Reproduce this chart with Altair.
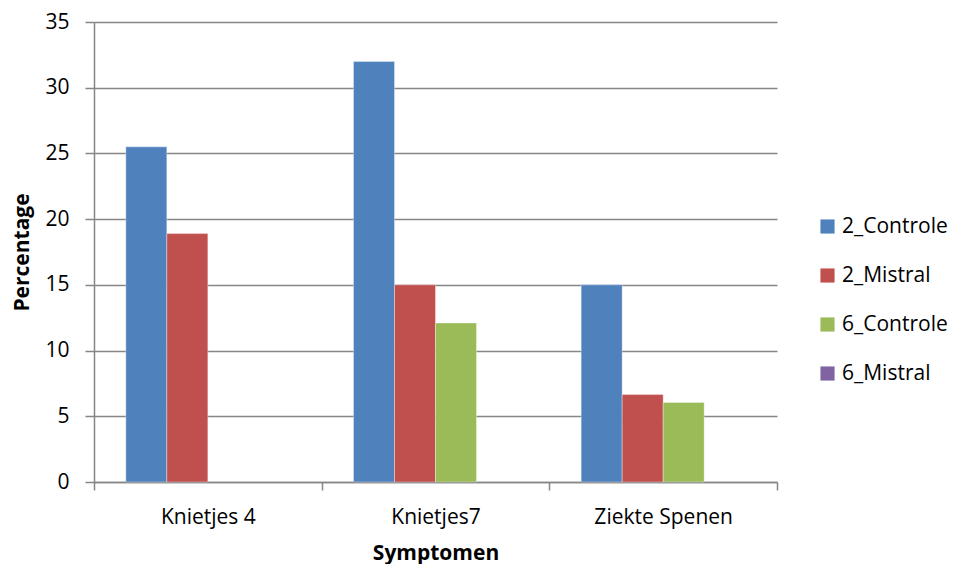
import altair as alt
import pandas as pd

categories = ["Knietjes 4", "Knietjes7", "Ziekte Spenen"]
series = ["2_Controle", "2_Mistral", "6_Controle", "6_Mistral"]
colors = ["#4F81BD", "#C0504D", "#9BBB59", "#8064A2"]

vals_2_controle = [25.5, 32.0, 15.0]
vals_2_mistral = [18.9, 15.0, 6.65]
vals_6_controle = [None, 12.1, 6.05]
vals_6_mistral = [None, None, None]

rows = []
for s, vals in zip(series, [vals_2_controle, vals_2_mistral, vals_6_controle, vals_6_mistral]):
    for c, v in zip(categories, vals):
        if v is not None:
            rows.append({"Symptoom": c, "Groep": s, "Percentage": v})
df = pd.DataFrame(rows)

FONT = "Open Sans"
FS = 21

chart = alt.Chart(df).mark_bar(stroke="#ffffff", strokeOpacity=0.35, strokeWidth=1).encode(
    x=alt.X(
        "Symptoom:N",
        scale=alt.Scale(domain=categories, paddingInner=0, paddingOuter=0),
        axis=alt.Axis(
            title="Symptomen",
            labelAngle=0,
            tickBand="extent",
            grid=False,
            domainColor="#868686",
            domainWidth=1.5,
            tickColor="#868686",
            tickWidth=1.5,
            tickSize=8,
            labelPadding=16,
            labelFont=FONT,
            labelFontSize=FS,
            labelColor="#000000",
            titleFont=FONT,
            titleFontSize=FS,
            titleFontWeight="bold",
            titleColor="#000000",
            titlePadding=15,
        ),
    ),
    xOffset=alt.XOffset("Groep:N", scale=alt.Scale(domain=series, paddingInner=0, paddingOuter=0.776)),
    y=alt.Y(
        "Percentage:Q",
        scale=alt.Scale(domain=[0, 35], nice=False),
        axis=alt.Axis(
            title="Percentage",
            values=[0, 5, 10, 15, 20, 25, 30, 35],
            grid=True,
            gridColor="#868686",
            gridWidth=1.5,
            domainColor="#868686",
            domainWidth=1.5,
            tickColor="#868686",
            tickWidth=1.5,
            tickSize=9,
            labelPadding=16,
            labelFont=FONT,
            labelFontSize=FS,
            labelColor="#000000",
            titleFont=FONT,
            titleFontSize=FS,
            titleFontWeight="bold",
            titleColor="#000000",
            titlePadding=12,
        ),
    ),
    color=alt.Color(
        "Groep:N",
        scale=alt.Scale(domain=series, range=colors),
        legend=alt.Legend(
            title=None,
            orient="none",
            legendX=723,
            legendY=194,
            symbolType="square",
            symbolSize=200,
            symbolStrokeWidth=0,
            labelFont=FONT,
            labelFontSize=FS,
            labelColor="#000000",
            rowPadding=27,
            labelOffset=4,
            padding=0,
        ),
    ),
).properties(
    width=683,
    height=460,
    autosize=alt.AutoSizeParams(type="none"),
    padding={"left": 86, "top": 14, "right": 178, "bottom": 82},
).configure_view(stroke=None).configure_axis(labelFlush=False)

chart.save("out.html", embed_options={"renderer": "svg", "actions": False})
